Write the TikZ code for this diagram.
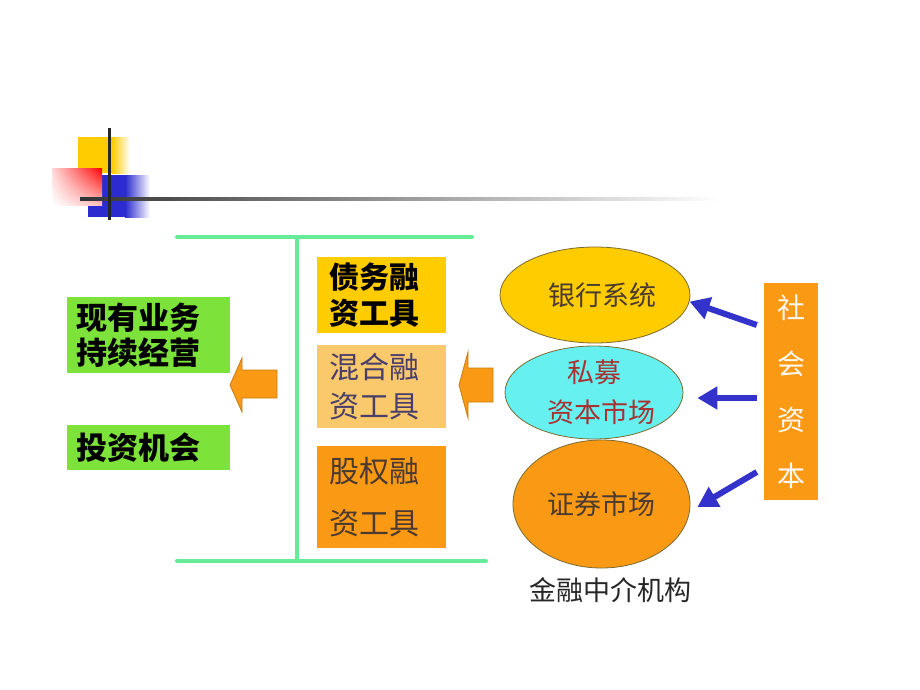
\documentclass[tikz,border=0pt]{standalone}
\usepackage{fontspec}
\newfontfamily\cjk{Noto Sans CJK SC}
\usetikzlibrary{arrows.meta,shapes.geometric,shadings}
\definecolor{gbox}{HTML}{7DE23A}
\definecolor{gline}{HTML}{66EB99}
\definecolor{gold}{HTML}{FFCC00}
\definecolor{lorange}{HTML}{F9C96B}
\definecolor{orng}{HTML}{FA9A14}
\definecolor{cyanE}{HTML}{66F0F0}
\definecolor{barrowc}{HTML}{3333CC}
\definecolor{ytop}{HTML}{FFCC00}
\definecolor{bluesq}{HTML}{2B2BD0}
\definecolor{purpletext}{HTML}{4A3F6B}
\definecolor{browntext}{HTML}{4A3A30}
\definecolor{redtext}{HTML}{A83232}
\definecolor{outl}{HTML}{7A6A30}
\begin{document}
\begin{tikzpicture}[x=1pt,y=-1pt,
  greenbox/.style={rectangle, fill=gbox, minimum width=163pt, inner xsep=9pt, text width=145pt, align=left,
     font=\cjk\bfseries\fontsize{31pt}{35pt}\selectfont},
  toolbox/.style={rectangle, minimum width=129pt, inner xsep=12pt, text width=105pt, align=left},
  ell/.style={ellipse, draw=outl, line width=0.8pt, inner sep=0pt, align=center,
     font=\cjk\fontsize{27pt}{40pt}\selectfont},
  barrow/.style={draw=barrowc, line width=6pt, -{Triangle[length=20pt,width=22pt]}},
  blockarrow/.style={fill=orng, draw=orng!80!black, line width=0.8pt},
  gl/.style={draw=gline, line width=4pt, line cap=round}
]
\useasboundingbox (0,0) rectangle (920,690);
\fill[white] (0,0) rectangle (920,690);

% logo
\fill[ytop] (78,137) rectangle (112,173);
\shade[left color=ytop, right color=white] (112,137) rectangle (130,173);
\fill[bluesq] (88,175) rectangle (125,217);
\shade[left color=bluesq, right color=white] (125,175) rectangle (150,217);
\shade[upper right=red, upper left=red!15, lower right=red!25, lower left=white] (52,168) rectangle (102,205);
\shade[left color=black!80, right color=white] (80,197.5) rectangle (720,200.5);
\draw[black!85, line width=3pt] (109,128) -- (109,220);

% green bracket
\draw[gl] (177,237) -- (472,237);
\draw[gl] (177,561) -- (486,561);
\draw[gl, line cap=butt] (297,237) -- (297,561);

% left green boxes
\node[greenbox, minimum height=76pt] (cont) at (148.5,335) {现有业务\\持续经营};
\node[greenbox, minimum height=45pt] (inv) at (148.5,447.5) {投资机会};

% tool boxes
\node[toolbox, fill=gold, minimum height=76pt, font=\cjk\bfseries\fontsize{30pt}{36pt}\selectfont] (debt) at (381.5,295) {债务融\\资工具};
\node[toolbox, fill=lorange, minimum height=83pt, text=purpletext, font=\cjk\fontsize{30pt}{39pt}\selectfont] (hyb) at (381.5,386.5) {混合融\\资工具};
\node[toolbox, fill=orng, minimum height=102pt, text=browntext, font=\cjk\fontsize{30pt}{52pt}\selectfont] (eq) at (381.5,497) {股权融\\资工具};

% block arrows
\draw[blockarrow] (230,385) -- (242,358) -- (242,370) -- (277,370) -- (277,398) -- (242,398) -- (242,412) -- cycle;
\draw[blockarrow] (459,385) -- (468,352) -- (468,368) -- (493,368) -- (493,402) -- (468,402) -- (468,418) -- cycle;

% ellipses
\node[ell, fill=gold, minimum width=190pt, minimum height=96pt, text=browntext] (bank) at (595,295) {\hspace*{14pt}银行系统};
\node[ell, fill=cyanE, minimum width=178pt, minimum height=93pt, text=redtext] (pe) at (594,392.5) {私募\\\hspace*{14pt}资本市场};
\node[ell, fill=orng, minimum width=177pt, minimum height=128pt, text=browntext] (sec) at (601.5,504) {证券市场};
\node[font=\cjk\fontsize{27pt}{30pt}\selectfont, text=black!85] (fi) at (610,590) {金融中介机构};

% social capital
\node[rectangle, fill=orng, minimum width=54pt, minimum height=217pt, inner sep=0pt, align=center,
      text=white!95!orange, font=\cjk\fontsize{28pt}{56pt}\selectfont] (sh) at (791,391.5) {社\\会\\资\\本};

% blue arrows
\draw[barrow] ([xshift=-7pt,yshift=66.5pt]sh.west) -- (bank.-4);
\draw[barrow] ([xshift=-7pt,yshift=-6.5pt]sh.west) -- ([xshift=14pt,yshift=-5.5pt]pe.east);
\draw[barrow] ([xshift=-7pt,yshift=-80.5pt]sh.west) -- ([xshift=7pt,yshift=-3pt]sec.east);
\end{tikzpicture}
\end{document}
